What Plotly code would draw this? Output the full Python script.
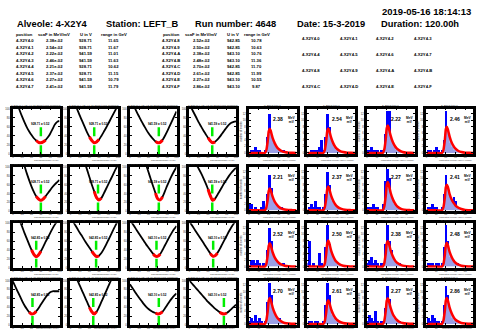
import plotly.graph_objects as go

W, H = 477, 331

# ---------------- data ----------------
POSITIONS = ["4-X2Y4-0", "4-X2Y4-1", "4-X2Y4-2", "4-X2Y4-3",
             "4-X2Y4-4", "4-X2Y4-5", "4-X2Y4-6", "4-X2Y4-7",
             "4-X2Y4-8", "4-X2Y4-9", "4-X2Y4-A", "4-X2Y4-B",
             "4-X2Y4-C", "4-X2Y4-D", "4-X2Y4-E", "4-X2Y4-F"]
SCAF = [2.38e-02, 2.54e-02, 2.22e-02, 2.46e-02, 2.21e-02, 2.37e-02, 2.27e-02, 2.41e-02,
        2.52e-02, 2.50e-02, 2.38e-02, 2.48e-02, 2.70e-02, 2.61e-02, 2.27e-02, 2.86e-02]
U_V = [928.71, 928.71, 941.59, 941.59, 928.71, 928.71, 941.59, 941.59,
       942.85, 942.85, 943.10, 943.10, 942.85, 942.85, 943.10, 943.10]
RANGE_GEV = [11.65, 11.67, 11.01, 11.63, 10.62, 11.15, 10.79, 11.79,
             10.78, 10.63, 10.76, 11.36, 11.70, 11.99, 10.55, 9.87]
TABLE_HEADERS = ["position", "scaF in MeV/mV", "U in V", "range in GeV"]
TITLE_TEXTS = ["Alveole: 4-X2Y4", "Station: LEFT_B", "Run number: 4648",
               "Date: 15-3-2019", "Duration: 120.00h"]
TIMESTAMP = "2019-05-16 18:14:13"

# scan curves (left panels)
SCAN_X = [0, 5, 10, 15, 20, 25, 30, 35, 40, 45, 50, 55, 60, 65, 70, 75, 80, 85, 90, 95, 100]
SCAN_Y = [
    [150, 130, 110, 95, 82, 70, 59, 50, 42, 35, 30, 26, 25, 27, 31, 37, 45, 55, 65, 71, 73],
    [140, 125, 110, 97, 84, 72, 60, 48, 38, 30, 25, 27, 32, 40, 49, 58, 68, 78, 88, 98, 108],
    [125, 115, 103, 92, 82, 72, 63, 54, 46, 39, 33, 28, 25, 26, 31, 40, 50, 61, 72, 83, 94],
    [110, 100, 90, 80, 70, 61, 52, 44, 36, 29, 25, 27, 32, 38, 45, 52, 59, 65, 69, 71, 72],
    [200, 180, 160, 140, 120, 102, 85, 70, 56, 44, 34, 28, 25, 28, 34, 41, 48, 55, 61, 66, 71],
    [230, 205, 182, 162, 143, 126, 110, 94, 77, 60, 45, 31, 26, 30, 40, 51, 62, 73, 84, 95, 105],
    [230, 210, 190, 170, 152, 135, 120, 104, 88, 72, 56, 41, 28, 26, 33, 45, 58, 70, 81, 91, 100],
    [130, 122, 114, 105, 96, 86, 75, 63, 50, 35, 25, 29, 37, 46, 55, 64, 72, 80, 87, 93, 98],
    [150, 135, 120, 105, 92, 78, 65, 52, 40, 30, 25, 29, 37, 47, 58, 68, 78, 88, 97, 104, 110],
    [115, 105, 96, 87, 78, 70, 61, 53, 45, 37, 30, 25, 27, 33, 42, 52, 63, 74, 85, 96, 106],
    [108, 100, 92, 84, 76, 68, 60, 52, 45, 38, 31, 26, 26, 31, 40, 50, 60, 70, 79, 87, 94],
    [104, 96, 88, 80, 72, 64, 56, 48, 40, 32, 26, 27, 33, 42, 52, 62, 72, 82, 91, 99, 106],
    [98, 87, 76, 65, 54, 44, 36, 29, 25, 26, 31, 38, 46, 54, 62, 69, 74, 76, 76, 76, 76],
    [135, 122, 110, 100, 88, 76, 64, 52, 40, 30, 25, 30, 40, 52, 64, 76, 88, 100, 110, 118, 124],
    [92, 84, 76, 68, 61, 54, 47, 41, 36, 32, 29, 27, 25, 26, 30, 37, 45, 53, 60, 66, 71],
    [100, 94, 88, 82, 76, 70, 64, 58, 52, 47, 42, 37, 33, 29, 26, 25, 27, 31, 36, 41, 46],
]
SCAN_MIN_X = [60, 50, 62, 49, 60, 58, 62, 49, 50, 54, 57, 51, 42, 48, 62, 74]
SCAN_TICKS = [0, 20, 40, 60, 80, 100]

# histograms (right panels)
HIST_X = [1, 3, 5, 7, 9, 11, 13, 15, 17, 19, 21, 23, 25, 27, 29, 31, 33, 35, 37, 39, 41, 43, 45, 47]
HIST_COUNTS = [
    [0, 1, 1, 2, 1, 1, 0, 0, 1, 5, 12, 5, 3, 2, 1, 1, 0, 1, 0, 0, 0, 0, 0, 0],
    [0, 0, 1, 1, 1, 1, 2, 4, 1, 5, 12, 8, 4, 2, 1, 1, 0, 0, 0, 0, 0, 0, 0, 0],
    [1, 1, 2, 1, 1, 1, 0, 1, 0, 6, 13, 13, 4, 2, 1, 0, 1, 0, 0, 0, 0, 0, 0, 0],
    [0, 1, 1, 0, 1, 2, 1, 0, 1, 4, 13, 7, 3, 2, 1, 1, 0, 0, 0, 0, 0, 0, 0, 0],
    [2, 2, 0, 1, 0, 0, 1, 3, 0, 5, 11, 7, 3, 2, 1, 1, 1, 0, 0, 0, 0, 0, 0, 0],
    [0, 1, 2, 1, 3, 1, 1, 0, 1, 5, 12, 8, 3, 2, 1, 1, 0, 0, 0, 0, 0, 0, 0, 0],
    [1, 1, 1, 2, 1, 1, 0, 0, 2, 9, 13, 10, 4, 2, 1, 1, 0, 0, 0, 0, 0, 0, 0, 0],
    [0, 1, 1, 2, 1, 1, 0, 0, 1, 5, 11, 7, 4, 3, 4, 3, 1, 0, 0, 0, 0, 0, 0, 0],
    [0, 2, 2, 1, 2, 1, 0, 1, 0, 5, 12, 8, 3, 2, 1, 1, 0, 1, 0, 0, 0, 0, 0, 0],
    [1, 8, 0, 1, 0, 0, 4, 1, 0, 6, 13, 7, 4, 2, 1, 0, 0, 0, 0, 0, 0, 0, 0, 0],
    [1, 2, 3, 1, 2, 1, 0, 1, 1, 7, 13, 8, 5, 2, 1, 1, 1, 0, 0, 0, 0, 0, 0, 0],
    [0, 1, 1, 1, 0, 1, 1, 0, 1, 6, 13, 8, 3, 3, 2, 1, 1, 0, 0, 0, 0, 0, 0, 0],
    [1, 2, 1, 3, 1, 2, 1, 0, 1, 7, 13, 9, 4, 3, 2, 2, 1, 0, 0, 0, 0, 0, 0, 0],
    [0, 1, 1, 0, 1, 1, 0, 0, 1, 6, 13, 9, 3, 2, 1, 1, 0, 0, 0, 0, 0, 0, 0, 0],
    [1, 3, 2, 1, 4, 1, 0, 1, 1, 5, 12, 8, 4, 2, 1, 1, 1, 0, 0, 0, 0, 0, 0, 0],
    [0, 2, 1, 3, 2, 1, 1, 0, 1, 6, 12, 9, 4, 2, 1, 1, 0, 0, 0, 0, 0, 0, 0, 0],
]
HIST_TICKS = [0, 10, 20, 30, 40]
FIT_X = [0, 10, 16, 17.5, 19, 20, 21, 22, 23, 24, 26, 28, 30, 33, 36, 40, 44, 48]
FIT_Y = [
    [0, 0, 0, 0.8, 3.7, 6.6, 7.4, 6.8, 5.6, 4.5, 3.0, 1.9, 1.2, 0.6, 0.3, 0.1, 0.05, 0.02],
    [0, 0, 0, 0.9, 3.8, 6.7, 7.5, 6.9, 5.7, 4.6, 3.0, 1.9, 1.2, 0.6, 0.3, 0.1, 0.05, 0.02],
    [0, 0, 0, 1.0, 4.3, 7.5, 8.4, 7.7, 6.4, 5.2, 3.4, 2.2, 1.4, 0.7, 0.3, 0.1, 0.05, 0.02],
    [0, 0, 0, 0.9, 4.0, 7.2, 8.0, 7.3, 6.1, 4.9, 3.2, 2.1, 1.3, 0.6, 0.3, 0.1, 0.05, 0.02],
    [0, 0, 0, 0.8, 3.4, 6.1, 6.8, 6.2, 5.2, 4.2, 2.7, 1.8, 1.1, 0.5, 0.25, 0.1, 0.05, 0.02],
    [0, 0, 0, 0.9, 3.7, 6.6, 7.4, 6.8, 5.6, 4.5, 3.0, 1.9, 1.2, 0.6, 0.3, 0.1, 0.05, 0.02],
    [0, 0, 0, 1.1, 4.5, 7.9, 8.8, 8.1, 6.7, 5.4, 3.6, 2.3, 1.4, 0.7, 0.3, 0.1, 0.05, 0.02],
    [0, 0, 0, 0.9, 4.0, 7.2, 8.0, 7.4, 6.2, 5.0, 3.4, 2.3, 1.5, 0.8, 0.4, 0.1, 0.05, 0.02],
    [0, 0, 0, 0.8, 3.6, 6.5, 7.3, 6.7, 5.5, 4.4, 2.9, 1.9, 1.2, 0.6, 0.3, 0.1, 0.05, 0.02],
    [0, 0, 0, 0.9, 4.1, 7.3, 8.1, 7.4, 6.1, 4.9, 3.2, 2.0, 1.3, 0.6, 0.3, 0.1, 0.05, 0.02],
    [0, 0, 0, 1.0, 4.1, 7.2, 8.0, 7.4, 6.2, 5.0, 3.3, 2.1, 1.3, 0.7, 0.3, 0.1, 0.05, 0.02],
    [0, 0, 0, 0.8, 3.7, 6.6, 7.4, 6.8, 5.6, 4.5, 3.0, 1.9, 1.2, 0.6, 0.3, 0.1, 0.05, 0.02],
    [0, 0, 0, 1.0, 4.1, 7.3, 8.1, 7.5, 6.3, 5.1, 3.4, 2.2, 1.4, 0.7, 0.3, 0.1, 0.05, 0.02],
    [0, 0, 0, 0.8, 3.7, 6.6, 7.4, 6.8, 5.6, 4.5, 3.0, 1.9, 1.2, 0.6, 0.3, 0.1, 0.05, 0.02],
    [0, 0, 0, 0.9, 4.0, 7.2, 8.0, 7.4, 6.1, 4.9, 3.2, 2.1, 1.3, 0.6, 0.3, 0.1, 0.05, 0.02],
    [0, 0, 0, 1.0, 4.1, 7.3, 8.1, 7.4, 6.2, 5.0, 3.3, 2.1, 1.3, 0.7, 0.3, 0.1, 0.05, 0.02],
]

# ---------------- layout geometry (pixels) ----------------
LEFT_COLS = [(12, 59), (70, 118), (130, 177), (190, 237)]
RIGHT_COLS = [(250, 298), (309, 357), (369, 417), (429, 476)]
ROWS = [(108, 154), (167, 212), (224, 269), (282, 327)]
FONT = "Liberation Sans, Arial, sans-serif"

fig = go.Figure()
annotations = []
axes = {}


def refs(n):
    return ("x", "y") if n == 1 else (f"x{n}", f"y{n}")


def ptext(x, y, s, size, xanchor="center", bold=True, color="black", yanchor="middle"):
    annotations.append(dict(
        x=x / W, y=1 - y / H, xref="paper", yref="paper",
        text=f"<b>{s}</b>" if bold else s, showarrow=False,
        xanchor=xanchor, yanchor=yanchor, borderpad=0,
        font=dict(size=size, color=color, family=FONT)))


def axis_common():
    return dict(showline=True, linecolor="black", linewidth=2.5, mirror="ticks",
                ticks="inside", ticklen=2, tickwidth=0.6, tickcolor="black",
                showgrid=False, zeroline=False,
                tickfont=dict(size=2.6, color="#222", family=FONT), fixedrange=True)


def add_axes(n, cols, rows, xr, yr, xticks, n_lab, yd, ytitle=None):
    xr_, yr_ = refs(n)
    xk = "xaxis" if n == 1 else f"xaxis{n}"
    yk = "yaxis" if n == 1 else f"yaxis{n}"
    xa = axis_common()
    labels = [str(v) if i < n_lab else "" for i, v in enumerate(xticks)]
    xa.update(domain=[cols[0] / W, cols[1] / W], range=xr, anchor=yr_,
              tickvals=xticks, ticktext=labels, ticklabelstandoff=-2)
    ya = axis_common()
    ya.update(domain=[1 - rows[1] / H, 1 - rows[0] / H], range=yr, dtick=yd, anchor=xr_)
    if ytitle:
        ya.update(title=dict(text=ytitle, font=dict(size=2.6, color="#222", family=FONT), standoff=1))
    axes[xk] = xa
    axes[yk] = ya


# ---------------- left: scan panels ----------------
for k in range(16):
    r, c = divmod(k, 4)
    n = k + 1
    xa, ya = refs(n)
    cols, rows = LEFT_COLS[c], ROWS[r]
    last = r == 3
    add_axes(n, cols, rows, [0, 100], [0, 100], SCAN_TICKS, 3 if last else 6, 20)
    fig.add_trace(go.Scatter(x=SCAN_X, y=SCAN_Y[k], mode="lines",
                             line=dict(color="black", width=1.8, shape="spline", smoothing=0.8),
                             xaxis=xa, yaxis=ya, showlegend=False, hoverinfo="skip"))
    sel = [i for i, xv in enumerate(SCAN_X) if abs(xv - SCAN_MIN_X[k]) <= 10]
    fig.add_trace(go.Scatter(x=[SCAN_X[i] for i in sel], y=[SCAN_Y[k][i] for i in sel],
                             mode="lines", line=dict(color="red", width=3, shape="spline"),
                             xaxis=xa, yaxis=ya, showlegend=False, hoverinfo="skip"))
    fig.add_trace(go.Scatter(x=[SCAN_MIN_X[k], SCAN_MIN_X[k]], y=[0, 63], mode="lines",
                             line=dict(color="#00ee00", width=2.5, dash="dash"),
                             xaxis=xa, yaxis=ya, showlegend=False, hoverinfo="skip"))
    annotations.append(dict(x=0.6, y=0.76, xref=f"{xa} domain", yref=f"{ya} domain",
                            text=f"<b>{U_V[k]:.2f} ± 0.52</b>", showarrow=False,
                            font=dict(size=3, color="black", family=FONT)))
    cx = (cols[0] + cols[1]) / 2
    ptext(cx, rows[0] - 3.0, f"U scan of {POSITIONS[k]} (all shield types combined)", 2.4,
          bold=False, color="#333")
    ptext(cols[1], rows[1] + (2.6 if last else 6.6), "Threshold(pulse) in mV", 2.2 if last else 2.4,
          xanchor="right", bold=False, color="#333")

# ---------------- right: histogram panels ----------------
for k in range(16):
    r, c = divmod(k, 4)
    n = 17 + k
    xa, ya = refs(n)
    cols, rows = RIGHT_COLS[c], ROWS[r]
    last = r == 3
    add_axes(n, cols, rows, [0, 48], [-0.35, 13.5], HIST_TICKS, 2 if last else 5, 2,
             ytitle="number of events")
    fig.add_trace(go.Bar(x=HIST_X, y=HIST_COUNTS[k], width=2,
                         marker=dict(color="#0000ff", line=dict(width=0)),
                         xaxis=xa, yaxis=ya, showlegend=False, hoverinfo="skip"))
    fig.add_trace(go.Scatter(x=FIT_X, y=FIT_Y[k], mode="lines", fill="tozeroy",
                             fillcolor="rgba(172,176,228,0.9)",
                             line=dict(color="red", width=2.5, shape="spline", smoothing=0.6),
                             xaxis=xa, yaxis=ya, showlegend=False, hoverinfo="skip"))
    annotations.append(dict(x=0.76, y=0.88, xref=f"{xa} domain", yref=f"{ya} domain",
                            xanchor="right", text=f"<b>{SCAF[k] * 100:.2f}</b>", showarrow=False,
                            font=dict(size=5, color="black", family=FONT)))
    annotations.append(dict(x=0.77, y=0.88, xref=f"{xa} domain", yref=f"{ya} domain",
                            xanchor="left", text="<b>MeV</b><br><b>mV</b>", showarrow=False,
                            font=dict(size=3.2, color="black", family=FONT)))
    cx = (cols[0] + cols[1]) / 2
    ptext(cx, rows[0] - 3.0, f"{POSITIONS[k][-1]}: Shield type 0", 2.4, bold=False, color="#333")
    ptext(cols[1], rows[1] + (2.6 if last else 6.6), "calibrated energy [GeV] (norm)",
          2.2 if last else 2.4, xanchor="right", bold=False, color="#333")

# ---------------- header texts ----------------
ptext(475, 10, TIMESTAMP, 9.5, xanchor="right")
for s, x in zip(TITLE_TEXTS, [15, 105, 195, 297, 382]):
    ptext(x, 22.5, s, 9.3, xanchor="left")

LT_COLS = [24, 53.5, 85.5, 113.5]
RT_COLS = [171.5, 202, 234, 258]
for j, h in enumerate(TABLE_HEADERS):
    ptext(LT_COLS[j], 33.3, h, 4.2)
    ptext(RT_COLS[j], 33.3, h, 4.2)
for i in range(8):
    y = 39.3 + 6.6 * i
    for cols, k in ((LT_COLS, i), (RT_COLS, i + 8)):
        vals = [POSITIONS[k], f"{SCAF[k]:.2e}", f"{U_V[k]:.2f}", f"{RANGE_GEV[k]:.2f}"]
        for j, v in enumerate(vals):
            ptext(cols[j], y, v, 4.2)

GRID_X = [313, 350.5, 387.5, 426]
GRID_Y = [36.5, 53, 69.5, 85.5]
for k in range(16):
    r, c = divmod(k, 4)
    ptext(GRID_X[c], GRID_Y[r], POSITIONS[k], 4.2)

fig.update_layout(width=W, height=H, margin=dict(l=0, r=0, t=0, b=0),
                  paper_bgcolor="white", plot_bgcolor="white",
                  bargap=0, barmode="overlay", showlegend=False,
                  annotations=annotations, font=dict(family=FONT), **axes)
fig.write_html("out.html", config={"displayModeBar": False})
